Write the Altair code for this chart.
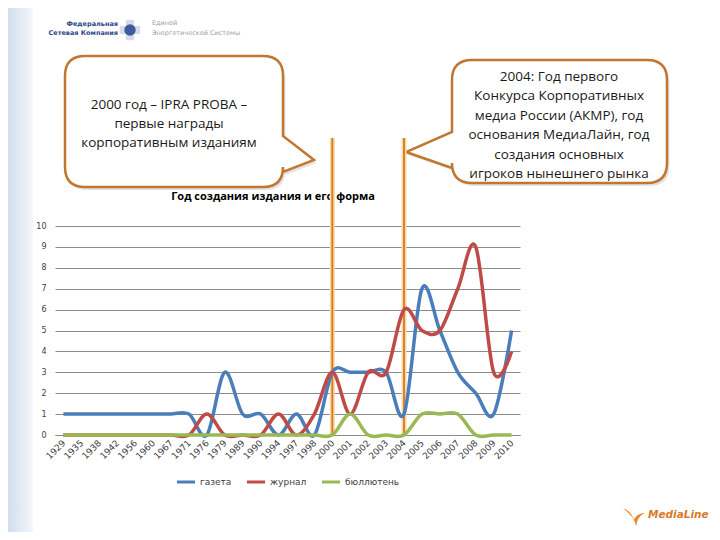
import altair as alt
import pandas as pd

years = ["1929", "1935", "1938", "1942", "1956", "1960", "1967", "1971", "1976",
         "1979", "1989", "1990", "1994", "1997", "1998", "2000", "2001", "2002",
         "2003", "2004", "2005", "2006", "2007", "2008", "2009", "2010"]
gazeta = [1, 1, 1, 1, 1, 1, 1, 1, 0, 3, 1, 1, 0, 1, 0, 3, 3, 3, 3, 1, 7, 5, 3, 2, 1, 5]
zhurnal = [0, 0, 0, 0, 0, 0, 0, 0, 1, 0, 0, 0, 1, 0, 1, 3, 1, 3, 3, 6, 5, 5, 7, 9, 3, 4]
bulleten = [0, 0, 0, 0, 0, 0, 0, 0, 0, 0, 0, 0, 0, 0, 0, 0, 1, 0, 0, 0, 1, 1, 1, 0, 0, 0]
series_names = ["газета", "журнал", "бюллютень"]
series_colors = ["#4A7EBB", "#BE4B48", "#98B954"]
marked_years = ["2000", "2004"]

title_text = "Год создания издания и его форма"
left_note = ["2000 год – IPRA PROBA –", "первые награды", "корпоративным изданиям"]
right_note = ["2004: Год первого", "Конкурса Корпоративных", "медиа России (АКМР), год",
              "основания МедиаЛайн, год", "создания основных", "игроков нынешнего рынка"]

rows = []
for name, vals in zip(series_names, [gazeta, zhurnal, bulleten]):
    for i, (y, v) in enumerate(zip(years, vals)):
        rows.append({"year": y, "value": v, "series": name, "order": series_names.index(name)})
df = pd.DataFrame(rows)

# plot area origin on the page
OX, OY = 55, 226
W, H = 465, 209


def rx(px):
    return px - OX


def ry(py):
    return py - OY


one = pd.DataFrame({"a": [0]})

xscale = alt.Scale(domain=years, type="point", padding=0.47)

base = alt.Chart(df)
lines = base.mark_line(interpolate="cardinal", strokeWidth=3.5, clip=False).encode(
    x=alt.X("year:O", scale=xscale, sort=years,
            axis=alt.Axis(title=None, labelAngle=-45, labelAlign="right", labelBaseline="middle",
                          labelPadding=6, ticks=False, domain=True, domainColor="#8C8C8C",
                          labelFont="DejaVu Sans", labelFontSize=9, labelColor="#404040", grid=False)),
    y=alt.Y("value:Q", scale=alt.Scale(domain=[0, 10], nice=False),
            axis=alt.Axis(title=None, values=list(range(0, 11)), grid=True, gridColor="#8C8C8C",
                          gridWidth=1, ticks=False, domain=False, labelPadding=9,
                          labelFont="DejaVu Sans", labelFontSize=8, labelColor="#404040")),
    color=alt.Color("series:N", sort=series_names,
                    scale=alt.Scale(domain=series_names, range=series_colors),
                    legend=alt.Legend(title=None, orient="none", direction="horizontal",
                                      legendX=rx(175), legendY=ry(471), symbolType="stroke",
                                      symbolStrokeWidth=3, symbolSize=330, labelFontSize=9,
                                      labelFont="DejaVu Sans", labelColor="#404040",
                                      columnPadding=8, symbolOffset=0, labelOffset=3)),
    order=alt.Order("order:Q"),
    detail="series:N",
)

vdf = pd.DataFrame({"year": marked_years})
glow = alt.Chart(vdf).mark_rule(color="#F9D9A8", strokeWidth=5).encode(
    x=alt.X("year:O", scale=xscale, sort=years), y=alt.value(ry(138)), y2=alt.value(H))
vlines = alt.Chart(vdf).mark_rule(color="#D9791E", strokeWidth=1.8).encode(
    x=alt.X("year:O", scale=xscale, sort=years), y=alt.value(ry(138)), y2=alt.value(H))

# left light-blue strip
strip = alt.Chart(one).mark_rect(
    fill=alt.Gradient(gradient="linear", x1=0, x2=1, y1=0, y2=0,
                      stops=[alt.GradientStop(offset=0, color="#D1DDED"),
                             alt.GradientStop(offset=1, color="#F4F7FB")])
).encode(x=alt.value(-47), x2=alt.value(rx(33)), y=alt.value(-218), y2=alt.value(ry(532)))


def q(v):
    return f"{v / 200:.4f}"


def bubble_path(x0, y0, x1, y1, r, tail, side, cx, cy):
    (ta, tip, tb) = tail

    def P(x, y):
        return f"{q(x - cx)},{q(y - cy)}"
    d = f"M{P(x0 + r, y0)} L{P(x1 - r, y0)} Q{P(x1, y0)} {P(x1, y0 + r)} "
    if side == "right":
        d += f"L{P(x1, ta)} L{P(tip[0], tip[1])} L{P(x1, tb)} "
    d += f"L{P(x1, y1 - r)} Q{P(x1, y1)} {P(x1 - r, y1)} L{P(x0 + r, y1)} Q{P(x0, y1)} {P(x0, y1 - r)} "
    if side == "left":
        d += f"L{P(x0, tb)} L{P(tip[0], tip[1])} L{P(x0, ta)} "
    d += f"L{P(x0, y0 + r)} Q{P(x0, y0)} {P(x0 + r, y0)} Z"
    return d


def bubble_layers(x0, y0, x1, y1, tail, side):
    cx, cy = (x0 + x1) / 2, (y0 + y1) / 2
    path = bubble_path(x0, y0, x1, y1, 20, tail, side, cx, cy)
    shadow = alt.Chart(one).mark_point(shape=path, size=160000, filled=True, fill="#7F7F7F",
                                       opacity=0.22, strokeWidth=0).encode(
        x=alt.value(rx(cx) + 2.5), y=alt.value(ry(cy) + 3))
    body = alt.Chart(one).mark_point(shape=path, size=160000, filled=True, fill="#FFFFFF",
                                     stroke="#C0772F", strokeWidth=2.5, opacity=1,
                                     strokeOpacity=1, fillOpacity=1).encode(
        x=alt.value(rx(cx)), y=alt.value(ry(cy)))
    return [shadow, body]


note_layers = []
note_layers += bubble_layers(65, 56, 283, 187, (136, (314, 160), 172), "right")
note_layers += bubble_layers(452, 60, 667, 183, (132, (406, 152), 168), "left")

text_layers = []
for i, t in enumerate(left_note):
    text_layers.append(alt.Chart(one).mark_text(text=t, font="Open Sans", fontSize=13.5,
                                                color="#1A1A1A", align="center",
                                                baseline="middle").encode(
        x=alt.value(rx(169)), y=alt.value(ry(105 + 19.2 * i))))
for i, t in enumerate(right_note):
    text_layers.append(alt.Chart(one).mark_text(text=t, font="Open Sans", fontSize=13.5,
                                                color="#1A1A1A", align="center",
                                                baseline="middle").encode(
        x=alt.value(rx(559)), y=alt.value(ry(77 + 19.4 * i))))

title = alt.Chart(one).mark_text(text=title_text, font="Open Sans", fontSize=11, fontWeight="bold",
                                 color="#000000", align="center", baseline="middle").encode(
    x=alt.value(rx(273)), y=alt.value(ry(197)))

# logos as text
logo_layers = [
    alt.Chart(one).mark_text(text="Федеральная", font="DejaVu Sans", fontSize=6.5, fontWeight="bold",
                             color="#2F4A86", align="right", baseline="middle").encode(
        x=alt.value(rx(118)), y=alt.value(ry(24))),
    alt.Chart(one).mark_text(text="Сетевая Компания", font="DejaVu Sans", fontSize=6.5,
                             fontWeight="bold", color="#2F4A86", align="right",
                             baseline="middle").encode(
        x=alt.value(rx(118)), y=alt.value(ry(33))),
    alt.Chart(one).mark_point(shape="cross", size=420, filled=True, fill="#D5DCE8", opacity=1).encode(
        x=alt.value(rx(130)), y=alt.value(ry(30))),
    alt.Chart(one).mark_point(shape="circle", size=130, filled=True, fill="#3E5C9E", opacity=1).encode(
        x=alt.value(rx(130)), y=alt.value(ry(30))),
    alt.Chart(one).mark_text(text="Единой", font="DejaVu Sans", fontSize=6.5, color="#A0A0A0",
                             align="left", baseline="middle").encode(
        x=alt.value(rx(152)), y=alt.value(ry(23))),
    alt.Chart(one).mark_text(text="Энергетической Системы", font="DejaVu Sans", fontSize=6.5,
                             color="#A0A0A0", align="left", baseline="middle").encode(
        x=alt.value(rx(152)), y=alt.value(ry(33))),
    alt.Chart(one).mark_point(shape="M-1,-0.6 Q0,0.1 0.2,1 Q0.3,0.1 1,-0.2 Q0.2,-0.1 0,0.4 Q-0.3,-0.4 -1,-0.6 Z",
                              size=500, filled=True, fill="#E8892B", opacity=1).encode(
        x=alt.value(rx(634)), y=alt.value(ry(515))),
    alt.Chart(one).mark_text(text="MediaLine", font="DejaVu Sans", fontSize=10.5, fontWeight="bold",
                             fontStyle="italic", color="#D97A26", align="left",
                             baseline="middle").encode(
        x=alt.value(rx(648)), y=alt.value(ry(515))),
]

chart = alt.layer(strip, *logo_layers, *note_layers, *text_layers, title, glow, vlines, lines).properties(
    width=W, height=H, autosize=alt.AutoSizeParams(type="none"),
    padding={"left": 47, "top": 218, "right": 192, "bottom": 97},
    background="#FFFFFF",
).configure_view(stroke=None)

chart.save("out.html", embed_options={"renderer": "svg", "actions": False})
